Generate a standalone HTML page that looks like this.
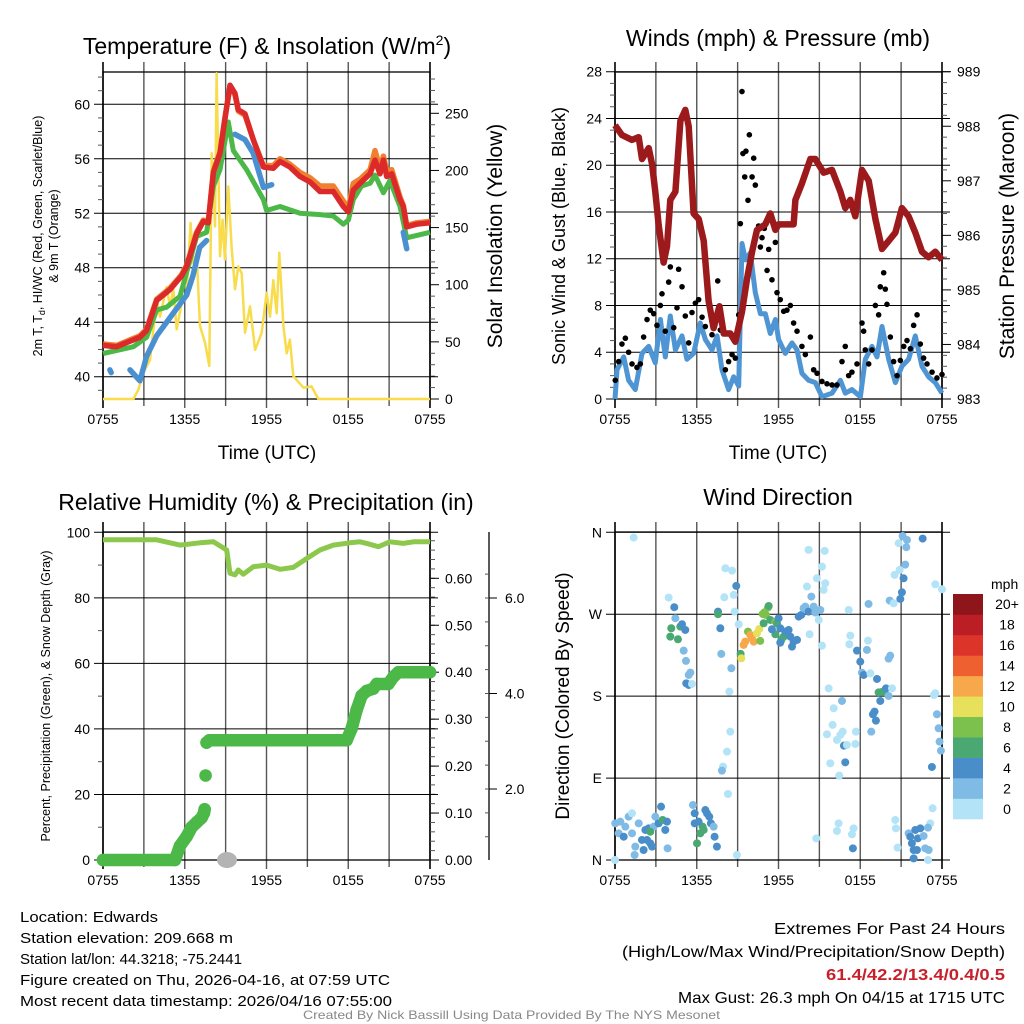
<!DOCTYPE html>
<html><head><meta charset="utf-8"><style>
html,body{margin:0;padding:0;background:#fff;}
svg{display:block;font-family:"Liberation Sans",sans-serif;}
</style></head><body>
<svg id="chart" width="1024" height="1024" viewBox="0 0 1024 1024" xmlns="http://www.w3.org/2000/svg">
<rect width="1024" height="1024" fill="#fff"/>
<g id="p1"></g>
<g id="p2"></g>
<g id="p3"></g>
<g id="p4"></g>

<text x="267" y="54" font-size="23" text-anchor="middle">Temperature (F) &amp; Insolation (W/m<tspan font-size="14" dy="-9">2</tspan><tspan dy="9">)</tspan></text>
<text x="778" y="46" font-size="23" text-anchor="middle">Winds (mph) &amp; Pressure (mb)</text>
<text x="266" y="510" font-size="23" text-anchor="middle">Relative Humidity (%) &amp; Precipitation (in)</text>
<text x="778" y="505" font-size="23" text-anchor="middle">Wind Direction</text>

<text x="267" y="459" font-size="19" text-anchor="middle">Time (UTC)</text>
<text x="778" y="459" font-size="19" text-anchor="middle">Time (UTC)</text>

<text transform="translate(42,236) rotate(-90)" font-size="12.5" text-anchor="middle">2m T, T<tspan font-size="9" dy="3">d</tspan><tspan dy="-3">, HI/WC (Red, Green, Scarlet/Blue)</tspan></text>
<text transform="translate(58,236) rotate(-90)" font-size="12.5" text-anchor="middle">&amp; 9m T (Orange)</text>
<text transform="translate(502,236) rotate(-90)" font-size="21" text-anchor="middle">Solar Insolation (Yellow)</text>
<text transform="translate(565,236) rotate(-90)" font-size="18" text-anchor="middle">Sonic Wind &amp; Gust (Blue, Black)</text>
<text transform="translate(1014,236) rotate(-90)" font-size="21" text-anchor="middle">Station Pressure (Maroon)</text>
<text transform="translate(50,696) rotate(-90)" font-size="12.5" text-anchor="middle">Percent, Precipitation (Green), &amp; Snow Depth (Gray)</text>
<text transform="translate(569,696) rotate(-90)" font-size="19" text-anchor="middle">Direction (Colored By Speed)</text>

<g font-size="15">
<text x="20" y="922" textLength="138" lengthAdjust="spacingAndGlyphs">Location: Edwards</text>
<text x="20" y="943" textLength="213" lengthAdjust="spacingAndGlyphs">Station elevation: 209.668 m</text>
<text x="20" y="964" textLength="222" lengthAdjust="spacingAndGlyphs">Station lat/lon: 44.3218; -75.2441</text>
<text x="20" y="985" textLength="370" lengthAdjust="spacingAndGlyphs">Figure created on Thu, 2026-04-16, at 07:59 UTC</text>
<text x="20" y="1006" textLength="372" lengthAdjust="spacingAndGlyphs">Most recent data timestamp: 2026/04/16 07:55:00</text>
</g>
<g font-size="16">
<text x="774" y="934" textLength="231" lengthAdjust="spacingAndGlyphs">Extremes For Past 24 Hours</text>
<text x="622" y="957" textLength="383" lengthAdjust="spacingAndGlyphs">(High/Low/Max Wind/Precipitation/Snow Depth)</text>
<text x="826" y="980" textLength="179" lengthAdjust="spacingAndGlyphs" fill="#c8202a" font-weight="bold">61.4/42.2/13.4/0.4/0.5</text>
<text x="678" y="1003" textLength="327" lengthAdjust="spacingAndGlyphs">Max Gust: 26.3 mph On 04/15 at 1715 UTC</text>
</g>
<text x="303" y="1019" font-size="12" fill="#888" textLength="417" lengthAdjust="spacingAndGlyphs">Created By Nick Bassill Using Data Provided By The NYS Mesonet</text>
</svg>
<script>
// ---------- DATA (hours since 0755 UTC) ----------
var timeLabels = ["0755","1355","1955","0155","0755"];
// Panel 1
var redT = [0,1.0,2.71,3.2,3.94,4.92,5.77,6.14,6.87,7.36,7.73,8.1,8.59,8.95,9.32,9.69,9.93,10.42,11.03,11.77,12.5,12.99,13.72,14.46,15.19,15.93,16.9,17.64,18.01,18.37,18.86,19.6,19.96,20.33,20.58,20.82,21.19,21.8,22.04,22.29,23.02,24];
var redV = [42.3,42.2,42.9,43.4,45.6,46.4,47.4,48.1,50.5,51.4,51.3,55,56.4,58.9,61.4,60.8,59.6,59.3,57.4,55.4,55.3,55.8,55.4,54.7,54.3,53.6,53.6,52.5,52.1,53.7,54.2,54.9,55.9,54.9,55.9,54.7,54.9,53.0,52.5,51.0,51.2,51.3];
var orangeT = [0,1.0,2.71,3.2,3.94,4.92,5.77,6.14,6.87,7.36,7.73,8.1,8.59,8.95,9.32,9.69,9.93,10.42,11.03,11.77,12.5,12.99,13.72,14.46,15.19,15.93,16.9,17.64,18.01,18.37,18.86,19.6,19.96,20.33,20.58,20.82,21.19,21.8,22.04,22.29,23.02,24];
var orangeV = [42.4,42.3,43.0,43.5,45.7,46.5,47.5,48.2,50.6,51.5,51.4,55.1,56.5,59.0,61.3,60.7,59.5,59.2,57.4,55.5,55.5,56.0,55.6,55.0,54.6,54.0,54.0,52.9,52.4,54.2,54.5,55.2,56.6,55.3,56.2,55.1,55.2,53.2,52.6,51.1,51.3,51.4];
var greenT = [0,2.23,3.2,3.94,4.67,5.65,6.87,7.6,8.1,8.59,9.2,9.56,10.54,11.77,12.01,12.99,14.46,15.93,16.9,17.64,18.01,18.37,18.98,19.6,19.96,20.58,21.06,21.8,22.29,24];
var greenV = [41.7,42.2,42.9,44.9,45.1,45.9,50.3,50.6,54,55.2,58.7,56.6,55.2,53.0,52.2,52.5,52.0,51.9,51.8,51.2,51.5,53,54,54.2,54.8,53.5,54.4,52.5,50.2,50.6];
var blueT = [0.51,0.6,null,1.98,2.71,3.2,3.94,4.67,5.4,6.14,6.6,7.1,7.6,null,9.69,10.42,11.03,11.77,12.38,null,22.04,22.29];
var blueV = [40.5,40.3,null,40.5,39.7,41.5,43,44,45,46,47.4,49.5,50,null,57.8,57.4,56.4,53.9,54.1,null,50.6,49.4];
var solarT = [0,2.23,2.59,2.96,3.45,3.94,4.18,4.67,4.92,5.16,5.41,5.77,6.14,6.43,6.63,6.87,7.12,7.49,7.8,7.98,8.22,8.34,8.59,8.78,8.95,9.2,9.44,9.69,9.93,10.18,10.42,10.79,11.16,11.65,12.01,12.26,12.5,12.75,12.94,13.24,13.48,13.72,13.97,14.7,15.31,15.8,24];
var solarV = [0,0,8,23,34,87,72,98,81,96,61,84,93,154,119,128,64,49,29,215,151,285,125,157,122,186,133,96,116,110,58,81,43,58,93,72,104,75,128,64,40,52,20,10,11,0,0];
var tempTicks = [40,44,48,52,56,60];
var solarTicks = [0,50,100,150,200,250];
// Panel 2
var presT = [0,.51,1.25,1.74,1.98,2.47,2.72,2.96,3.2,3.57,3.82,4.06,4.43,4.8,5.16,5.41,5.77,6.14,6.51,6.87,7.24,7.66,7.98,8.46,8.83,9.32,9.69,10.06,10.42,11.03,11.4,11.77,12.01,12.5,13.11,13.24,13.72,14.34,14.7,15.31,15.93,16.54,16.9,17.27,17.64,18.13,18.62,19.11,19.6,20.09,20.58,21.06,21.55,22.04,22.53,23.02,23.51,24];
var presV = [988.02,987.84,987.75,987.8,987.4,987.6,987.3,986.8,986.2,985.5,985.8,986.65,986.8,988.1,988.3,988,986.4,986.3,985.9,984.8,984.3,984.7,984.2,984.2,984.05,984.6,985.2,985.7,986.1,986.2,986.4,986.1,986.2,986.2,986.2,986.65,986.95,987.4,987.4,987.15,987.2,986.8,986.5,986.65,986.35,987.2,987,986.3,985.75,985.9,986.05,986.5,986.35,986.05,985.7,985.6,985.7,985.55];
var windT = [0,.15,.64,1.0,1.49,1.98,2.47,2.96,3.33,3.69,4.06,4.43,4.92,5.28,5.77,6.26,6.63,7.12,7.49,7.85,8.34,8.71,9.08,9.32,9.57,9.93,10.3,10.67,11.03,11.4,11.77,12.01,12.5,12.99,13.36,13.72,14.21,14.7,15.19,15.93,16.54,16.9,17.39,18.01,18.37,18.86,19.23,19.6,20.09,20.58,21.06,21.55,22.04,22.53,23.02,23.51,24];
var windV = [0,2.5,3.6,1.6,0.8,3.9,4.5,3.1,6.8,3.6,7.1,4.2,5.4,3.4,3.9,6.5,5.1,4.2,5.4,2.5,0.8,1.9,1.1,13.3,11.9,12.5,9.1,7.3,7.3,5.6,6.8,5.1,3.9,4.8,4.2,2.2,1.6,1.4,0.2,0.5,1.6,0.5,0.8,0.2,3.4,4.5,3.6,6.2,3.4,1.4,2.8,3.4,5.4,2.8,1.9,1.4,0.5];
var gustT = [.02,.27,.51,.76,1.0,1.25,1.61,1.86,2.1,2.35,2.59,2.84,3.08,3.33,3.45,3.69,3.94,4.06,4.31,4.55,4.67,4.92,5.16,5.41,5.65,5.9,6.14,6.39,6.63,7.12,7.54,7.73,8.1,8.34,8.59,8.83,9.08,9.2,9.32,9.39,9.52,9.61,9.76,9.86,10.06,10.18,10.3,10.54,10.67,10.79,10.96,11.16,11.28,11.52,11.77,11.89,12.13,12.38,12.62,12.87,13.11,13.36,13.72,13.97,14.34,14.58,14.83,15.19,15.56,15.93,16.29,16.66,16.9,17.15,17.39,17.76,18.13,18.25,18.37,18.62,18.86,19.11,19.35,19.47,19.72,19.84,19.96,20.21,20.45,20.7,20.94,21.19,21.43,21.68,21.92,22.17,22.41,22.65,22.9,23.27,23.63,24];
var gustV = [1.6,3.2,4.7,5.2,4,3,2.7,3,5.3,6.8,7.6,7.3,6.3,8,9,5.8,10,11.3,6.1,7.8,11.1,9.6,7.1,4.8,7.4,8.2,8.5,7,6.2,5.5,10.1,5.9,2.5,3.2,3.8,3.5,7.2,15,26.3,21,19,21.2,17,22.6,19,20.6,18.3,14.8,13,13.8,14.6,11,12.8,10.2,13.4,9.1,8.5,7.5,7.6,8,6.5,5.8,4.5,3.8,5.3,2.5,2.2,1.5,1.3,1.2,1.2,3.2,4.5,2,2.3,3,6.5,5.8,4.2,3,4.2,8,7.2,9.6,10.8,9.4,8.1,5.3,3.2,2,3.3,4.5,5,4.3,6.3,7.2,4.7,3.5,3,2.3,1.8,2.1];
var windTicks = [0,4,8,12,16,20,24,28];
var presTicks = [983,984,985,986,987,988,989];
// Panel 3
var rhT = [0,3.94,5.65,7.12,8.1,9.08,9.32,9.69,9.93,10.3,11.03,12.01,12.99,13.97,14.95,15.93,16.9,18.13,18.86,19.35,20.21,21.06,22.04,22.78,24];
var rhV = [97.7,97.7,96.1,96.8,97.1,94.6,87.5,87,88.5,87.2,89.5,90,88.7,89.3,92,94.6,96.1,96.8,97.1,96.6,95.6,97.1,96.6,97.1,97.1];
var precipT = [0,5.28,5.65,6.14,6.51,6.87,7.24,7.41,7.46,7.53,7.6,7.8,17.88,18.25,18.62,18.98,19.35,19.84,20.09,20.94,21.31,21.68,24];
var precipV = [0,0,.03,.05,.07,.08,.09,.10,.108,.18,.25,.255,.255,.28,.32,.35,.36,.365,.375,.375,.39,.4,.4];
var snowT = [9.1];
var snowV = [0];
var rhTicks = [0,20,40,60,80,100];
var precipTicks = ["0.00","0.10","0.20","0.30","0.40","0.50","0.60"];
var snowTicks = ["2.0","4.0","6.0"];
// Panel 4
var dirT = [1.37,0,.02,.27,.39,.64,.76,1.0,1.25,1.25,1.49,1.44,1.74,1.98,2.1,2.23,2.35,2.47,2.59,2.72,2.84,2.96,3.2,3.38,3.5,3.69,3.82,3.86,2.59,5.72,5.85,5.85,6.02,6.26,6.43,6.63,6.75,6.92,7.04,7.24,7.31,7.48,6.51,6.14,3.94,4.35,4.43,4.13,4.06,4.62,4.79,4.92,5.16,5.04,5.21,5.41,5.53,5.23,5.41,5.65,7.56,7.56,7.73,7.8,8.1,8.59,8.02,8.71,8.9,8.78,9.08,8.54,8.39,8.46,8.22,7.93,7.85,8.29,8.95,9.22,9.27,9.44,9.56,9.76,9.93,10.05,10.18,10.42,10.59,10.66,10.84,10.98,11.08,11.23,11.28,10.91,11.4,11.77,11.89,11.77,11.52,12.01,12.13,12.21,12.38,12.13,12.5,12.74,12.87,13.11,12.99,13.36,13.48,13.67,13.84,13.97,14.21,14.09,14.28,14.41,14.58,14.7,14.95,15.07,14.82,14.21,15.19,15.39,15.43,15.31,15.19,15.68,16.05,16.66,15.56,15.97,16.29,16.54,16.71,16.8,17.02,15.8,16.46,16.9,17.27,17.2,17.15,17.64,17.68,17.76,18.0,18.12,18.25,18.49,18.57,18.74,18.61,19.23,19.35,19.59,19.79,19.89,20.08,20.33,19.47,19.05,18.93,19.15,18.81,20.08,20.2,20.16,20.45,20.82,21.11,21.43,21.38,21.3,20.89,20.52,21.18,21.06,20.94,22.58,23.51,24,23.41,23.51,23.63,23.75,23.82,23.92,23.26,23.31,23.14,20.57,20.62,20.74,21.55,21.67,21.79,21.92,22.16,21.92,22.04,22.23,22.41,22.65,22.97,22.77,22.97,23.02,16.41,16.29,17.51,17.39,17.46,14.77];
var dirV = [354.2,0,40.3,29.3,42.1,25.6,36.6,47.6,51.3,29.3,14.7,5.5,40.3,22,11,33,22,34.8,18.3,14.7,36.6,47.6,40.3,58.6,44,33,42.1,12.8,31.1,60.4,51.3,40.3,18.3,29.3,36.6,54.9,51.3,47.6,40.3,36.6,25.6,14.7,33,42.1,288.3,277.7,265.6,254.6,245.4,242.5,256.4,259,252.7,230,218.7,203.3,205.9,194.1,192.3,193.4,272.9,270,254.6,226.4,320.5,317.9,288.6,291.2,301.1,272.9,259,210.6,185,141,119,102.6,98.2,72.5,5.5,226.4,221.6,236.3,239.9,250.9,247.3,243.6,239.9,249.1,253.8,240.7,270.3,272.2,269.2,277.3,279.1,260.1,263.7,261.9,260.1,248,253.5,265.6,254.6,241.8,245.4,238.8,250.9,252.7,245.4,239.9,234.4,241.8,267.4,269.2,276.6,278.4,272.9,300.4,248,289.4,278.4,271.8,263.7,274.7,309.5,340.7,322.3,339.6,304,296.7,235.5,188.6,166.7,174.7,138.1,148.4,131.9,137.4,141,125.6,126.4,106.2,92.7,107.3,246.5,237,274.7,127.5,141,230,217.9,205.9,203.3,230.8,241,205.1,281.3,198.9,184.2,184.6,185.7,188.6,180.2,188.6,174.7,163,160.1,153.1,141,221.2,224.5,285,282,348,356,351.6,343.6,324.5,318.7,313.2,309.5,294.1,286.8,353.1,302.9,297.4,181.3,183.2,160.1,144.7,130,120.1,102.2,56.8,40.3,44,34.8,13.6,29.3,25.6,18.3,11,11,1.8,33,23.8,34.8,26.4,35.5,12.8,0,11,40.3,31.9,34.8,28.2,12.8,23.8];
var dirS = [1,1,3,3,3,5,3,3,1,3,3,3,3,5,5,5,5,5,5,5,3,3,5,5,7,5,5,3,7,3,5,5,7,7,7,5,5,5,5,3,5,5,7,5,1,5,3,7,7,7,7,5,5,3,3,3,3,5,5,1,5,7,5,3,1,1,1,1,5,1,1,3,1,1,1,1,3,1,1,7,11,13,13,9,13,13,13,11,11,9,9,9,9,9,7,7,7,9,7,7,5,5,5,7,7,5,5,5,5,5,5,5,5,5,3,3,5,1,1,3,3,3,1,3,1,1,1,1,1,1,1,1,1,3,1,1,1,1,1,5,1,1,1,5,1,1,1,1,1,5,5,3,5,3,1,1,3,5,7,7,7,5,3,1,5,5,5,5,3,3,3,3,1,1,3,3,3,3,1,1,5,5,5,5,1,1,1,1,3,3,3,3,5,1,1,1,1,1,3,5,5,5,5,5,5,5,5,3,3,3,1,3,1,1,1,1,5,1];
var dirLabels = ["N","E","S","W","N"];
var speedBins = ["0","2","4","6","8","10","12","14","16","18","20+"];
var binColors = ["#b3e3f7","#80bbe6","#4a8ec9","#4aa873","#7cc04e","#e6e05a","#f6a84a","#ee6030","#dc3429","#bb1e25","#8e1519"];

// ---------- DRAWING ----------
var NS = "http://www.w3.org/2000/svg";
function mk(parent, tag, attrs){ var e = document.createElementNS(NS, tag); for (var k in attrs) e.setAttribute(k, attrs[k]); parent.appendChild(e); return e; }
function scale(d0,d1,r0,r1){ return function(v){ return r0 + (v-d0)*(r1-r0)/(d1-d0); }; }

function frame(g, L, R, T, B){
  var x = scale(0,24,L,R);
  for (var i=0;i<=8;i++){
    var xx = x(i*3);
    var ln = mk(g,'line',{x1:xx,x2:xx,y1:T-10,y2:B+(i%2==0?9:7),stroke:(i==0||i==8)?'#000':'#555','stroke-width':(i==0||i==8)?1.6:1.4});
    
    
  }
  for (var j=0;j<timeLabels.length;j++){
    var tx = mk(g,'text',{x:x(j*6),y:B+25,'font-size':14,'text-anchor':'middle'});
    tx.textContent = timeLabels[j];
    
    
  }
  var r = mk(g,'rect',{x:L,y:T,width:R-L,height:B-T,fill:'none',stroke:'#000','stroke-width':1.3});
  
  
  return x;
}
function hgrid(g, L, R, y, val, lab){
  var ln = mk(g,'line',{x1:L-9,x2:R+8,y1:y,y2:y,stroke:'#000','stroke-width':1});
  
  
  var t = mk(g,'text',{x:L-13,y:y+5,'font-size':14,'text-anchor':'end'});
  t.textContent = lab;
  
  
}
function minor(g, X, y, len, dir){
  var ln = mk(g,'line',{x1:X,x2:X+dir*len,y1:y,y2:y,stroke:'#555','stroke-width':1});
  
  
}
function rightLabel(g, X, y, lab){
  var ln = mk(g,'line',{x1:X,x2:X+9,y1:y,y2:y,stroke:'#000','stroke-width':1});
  
  
  var t = mk(g,'text',{x:X+15,y:y+5,'font-size':14});
  t.textContent = lab;
  
  
}
function path(xs, ys, T, V){
  var d='', pen=false;
  for (var i=0;i<T.length;i++){
    if (T[i]===null){ pen=false; continue; }
    d += (pen?'L':'M') + xs(T[i]).toFixed(1) + ',' + ys(V[i]).toFixed(1);
    pen=true;
  }
  return d;
}

// Panel 1
(function(){
  var g = document.getElementById('p1'), L=103,R=430,T=72,B=399;
  var x = frame(g,L,R,T,B);
  var y = scale(40,60,376.7,104.3), ys = scale(0,250,399,113.3);
  for (var v=39; v<=62; v++) if (v%4) minor(g,L,y(v),5,-1);
  for (var s=10; s<=280; s+=10) if (s%50) minor(g,R,ys(s),5,1);
  tempTicks.forEach(function(v){ hgrid(g,L,R,y(v),v,String(v)); });
  solarTicks.forEach(function(v){ rightLabel(g,R,ys(v),String(v)); });
  var e;
  e = mk(g,'path',{d:path(x,ys,solarT,solarV),fill:'none',stroke:'#f8dc4c','stroke-width':2.5,'stroke-linejoin':'round'});
   
  e = mk(g,'path',{d:path(x,y,orangeT,orangeV),fill:'none',stroke:'#f08030','stroke-width':5.5,'stroke-linejoin':'round'});
   
  e = mk(g,'path',{d:path(x,y,greenT,greenV),fill:'none',stroke:'#4cb848','stroke-width':5,'stroke-linejoin':'round'});
   
  e = mk(g,'path',{d:path(x,y,blueT,blueV),fill:'none',stroke:'#4a90d0','stroke-width':5.5,'stroke-linejoin':'round','stroke-linecap':'round'});
   
  e = mk(g,'path',{d:path(x,y,redT,redV),fill:'none',stroke:'#dc2a2a','stroke-width':5.5,'stroke-linejoin':'round'});
   
})();

// Panel 2
(function(){
  var g = document.getElementById('p2'), L=615,R=942,T=72,B=399;
  var x = frame(g,L,R,T,B);
  var y = scale(0,28,399,71.7), yp = scale(983,989,399,71.7);
  for (var v=1; v<28; v++) if (v%4) minor(g,L,y(v),5,-1);
  for (var p=983.2; p<989; p+=0.2) if (Math.abs(p-Math.round(p))>0.05) minor(g,R,yp(p),5,1);
  windTicks.forEach(function(v){ hgrid(g,L,R,y(v),v,String(v)); });
  presTicks.forEach(function(v){ rightLabel(g,R,yp(v),String(v)); });
  var e = mk(g,'path',{d:path(x,y,windT,windV),fill:'none',stroke:'#4f95d3','stroke-width':5,'stroke-linejoin':'round'});
   
  for (var i=0;i<gustT.length;i++){
    var c = mk(g,'circle',{cx:x(gustT[i]),cy:y(gustV[i]),r:2.8,fill:'#000'});
     
  }
  e = mk(g,'path',{d:path(x,yp,presT,presV),fill:'none',stroke:'#9c1a1c','stroke-width':6.5,'stroke-linejoin':'round'});
   
})();

// Panel 3
(function(){
  var g = document.getElementById('p3'), L=103,R=430,T=532,B=860;
  var x = frame(g,L,R,T,B);
  var y = scale(0,100,860,532.3), yp = scale(0,0.6,860,578.3), ysn = scale(2,6,789,598);
  for (var v=10; v<100; v+=20) minor(g,L,y(v),5,-1);
  for (var p=0.02; p<0.69; p+=0.02) minor(g,R,yp(p),5,1);
  rhTicks.forEach(function(v){ hgrid(g,L,R,y(v),v,String(v)); });
  precipTicks.forEach(function(v){ rightLabel(g,R,yp(parseFloat(v)),v); });
  var ax = mk(g,'line',{x1:489,x2:489,y1:532,y2:860,stroke:'#000','stroke-width':1.3});
   
  for (var s=0.5; s<7; s+=0.5){ var yy=ysn(s); if (yy<532||yy>860) continue; minor(g,489,yy,4,-1); }
  snowTicks.forEach(function(v){
    var yy = ysn(parseFloat(v));
    var l = mk(g,'line',{x1:489,x2:497,y1:yy,y2:yy,stroke:'#000','stroke-width':1});
     
    var t = mk(g,'text',{x:505,y:yy+5,'font-size':14}); t.textContent=v;
     
  });
  var e = mk(g,'path',{d:path(x,y,rhT,rhV),fill:'none',stroke:'#8cc84b','stroke-width':5,'stroke-linejoin':'round'});
   
  var d='';
  for (var i=1;i<precipT.length;i++){
    if (precipV[i]-precipV[i-1] < 0.05) d += 'M'+x(precipT[i-1])+','+yp(precipV[i-1])+'L'+x(precipT[i])+','+yp(precipV[i]);
  }
  e = mk(g,'path',{d:d,fill:'none',stroke:'#4cb848','stroke-width':12.5,'stroke-linecap':'round','stroke-linejoin':'round'});
   
  for (var k=0;k<precipT.length;k++){
    var c = mk(g,'circle',{cx:x(precipT[k]),cy:yp(precipV[k]),r:6.3,fill:'#4cb848'});
     
  }
  for (var m=0;m<snowT.length;m++){
    var el = mk(g,'ellipse',{cx:x(snowT[m]),cy:yp(snowV[m]),rx:10,ry:8,fill:'#b4b4b4'});
     
  }
})();

// Panel 4
(function(){
  var g = document.getElementById('p4'), L=615,R=942,T=532,B=860;
  var x = frame(g,L,R,T,B);
  var y = scale(0,360,860,532.3);
  dirLabels.forEach(function(lab,i){ hgrid(g,L,R,y(i*90),i*90,lab); });
  for (var i=0;i<dirT.length;i++){
    var bi = Math.min(10, Math.floor(dirS[i]/2));
    var c = mk(g,'circle',{cx:x(dirT[i]),cy:y(dirV[i]),r:4,fill:binColors[bi]});
     
  }
  var lg = mk(g,'g',{});
   
  var t0 = mk(lg,'text',{x:991,y:589,'font-size':14}); t0.textContent='mph';
   
  var h=(819-594)/speedBins.length;
  for (var b=0;b<speedBins.length;b++){
    var yy = 819 - (b+1)*h;
    var r = mk(lg,'rect',{x:953,y:yy,width:30,height:h+0.3,fill:binColors[b]});
     
    var t = mk(lg,'text',{x:1007,y:yy+h/2+5,'font-size':14,'text-anchor':'middle'}); t.textContent=speedBins[b];
     
  }
})();
</script>
</body></html>
